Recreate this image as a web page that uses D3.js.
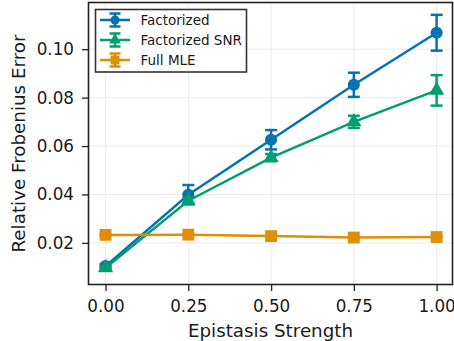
<!DOCTYPE html>
<html>
<head>
<meta charset="utf-8">
<script src="https://cdn.jsdelivr.net/npm/d3@7"></script>
<style>
body { margin: 0; background: #fff; }
text { font-family: "DejaVu Sans", sans-serif; }
</style>
</head>
<body>
<div id="chart"></div>
<script>
// values
var strengths = [0, 0.25, 0.5, 0.75, 1.0];
var factorized = [0.0104, 0.0399, 0.0626, 0.0853, 0.1068];
var factorizedErr = [0.0008, 0.0040, 0.0040, 0.0050, 0.0074];
var factorizedSnr = [0.0097, 0.0374, 0.0552, 0.0700, 0.0830];
var factorizedSnrErr = [0.0006, 0.0012, 0.0015, 0.0025, 0.0063];
var fullMle = [0.0233, 0.0234, 0.0228, 0.0222, 0.0224];
var fullMleErr = [0.0003, 0.0003, 0.0003, 0.0003, 0.0003];
var xTicks = [0, 0.25, 0.5, 0.75, 1.0];
var yTicks = [0.02, 0.04, 0.06, 0.08, 0.10];

var series = [
    {name: 'Factorized', values: factorized, err: factorizedErr, color: '#0173b2', shape: d3.symbolCircle},
    {name: 'Factorized SNR', values: factorizedSnr, err: factorizedSnrErr, color: '#029e73', shape: d3.symbolTriangle},
    {name: 'Full MLE', values: fullMle, err: fullMleErr, color: '#de8f05', shape: d3.symbolSquare}
];

var width = 454, height = 341;
var pLeft = 88.5, pTop = 2.5, pRight = 452.5, pBottom = 284.5;

var x = d3.scaleLinear().domain([-0.0515, 1.048]).range([pLeft, pRight]);
var y = d3.scaleLinear().domain([0.0028, 0.1193]).range([pBottom, pTop]);

var svg = d3.select('#chart').append('svg')
    .attr('width', width)
    .attr('height', height);

// grid
svg.append('g').selectAll('line').data(xTicks).enter().append('line')
    .attr('x1', function(d) { return x(d); }).attr('x2', function(d) { return x(d); })
    .attr('y1', pTop).attr('y2', pBottom)
    .attr('stroke', '#ebebeb').attr('stroke-width', 1);
svg.append('g').selectAll('line').data(yTicks).enter().append('line')
    .attr('y1', function(d) { return y(d); }).attr('y2', function(d) { return y(d); })
    .attr('x1', pLeft).attr('x2', pRight)
    .attr('stroke', '#ebebeb').attr('stroke-width', 1);

// axes
var xAxis = d3.axisBottom(x).tickValues(xTicks).tickFormat(d3.format('.2f')).tickSize(6.5).tickPadding(9);
var yAxis = d3.axisLeft(y).tickValues(yTicks).tickFormat(d3.format('.2f')).tickSize(6.5).tickPadding(8);

var gx = svg.append('g').attr('transform', 'translate(0,' + pBottom + ')').call(xAxis);
var gy = svg.append('g').attr('transform', 'translate(' + pLeft + ',0)').call(yAxis);
[gx, gy].forEach(function(g) {
    g.select('.domain').remove();
    g.selectAll('line').attr('stroke', '#222').attr('stroke-width', 1.3);
    g.selectAll('text').attr('font-size', 16.8).attr('fill', '#1a1a1a');
});

var line = d3.line()
    .x(function(d, i) { return x(strengths[i]); })
    .y(function(d) { return y(d); });

series.forEach(function(s) {
    var g = svg.append('g');
    g.append('path').attr('d', line(s.values))
        .attr('fill', 'none').attr('stroke', s.color).attr('stroke-width', 2.5);
    // error bars
    s.values.forEach(function(v, i) {
        var cx = x(strengths[i]);
        var y1 = y(v + s.err[i]), y2 = y(v - s.err[i]);
        g.append('line').attr('x1', cx).attr('x2', cx).attr('y1', y1).attr('y2', y2)
            .attr('stroke', s.color).attr('stroke-width', 2.5);
        [y1, y2].forEach(function(yy) {
            g.append('line').attr('x1', cx - 6).attr('x2', cx + 6).attr('y1', yy).attr('y2', yy)
                .attr('stroke', s.color).attr('stroke-width', 2.5);
        });
    });
    g.selectAll('path.m').data(s.values).enter().append('path')
        .attr('class', 'm')
        .attr('transform', function(d, i) { return 'translate(' + x(strengths[i]) + ',' + y(d) + ')'; })
        .attr('d', d3.symbol().type(s.shape).size(s.shape === d3.symbolSquare ? 140 : (s.shape === d3.symbolTriangle ? 100 : 115)))
        .attr('fill', s.color);
});

// frame
svg.append('rect').attr('x', pLeft).attr('y', pTop)
    .attr('width', pRight - pLeft).attr('height', pBottom - pTop)
    .attr('fill', 'none').attr('stroke', '#222').attr('stroke-width', 1.6);

// legend
var lg = svg.append('g').attr('transform', 'translate(95.5,9.5)');
lg.append('rect').attr('width', 151).attr('height', 62.5)
    .attr('fill', '#fff').attr('stroke', '#333').attr('stroke-width', 1.6);
series.forEach(function(s, i) {
    var yy = 10.5 + i * 20;
    lg.append('line').attr('x1', 4.5).attr('x2', 34.5).attr('y1', yy).attr('y2', yy)
        .attr('stroke', s.color).attr('stroke-width', 2.5);
    lg.append('line').attr('x1', 19.5).attr('x2', 19.5).attr('y1', yy - 6.5).attr('y2', yy + 6.5)
        .attr('stroke', s.color).attr('stroke-width', 2.5);
    [yy - 6.5, yy + 6.5].forEach(function(cy) {
        lg.append('line').attr('x1', 14).attr('x2', 25).attr('y1', cy).attr('y2', cy)
            .attr('stroke', s.color).attr('stroke-width', 2.5);
    });
    lg.append('path').attr('transform', 'translate(19.5,' + yy + ')')
        .attr('d', d3.symbol().type(s.shape).size(s.shape === d3.symbolSquare ? 80 : (s.shape === d3.symbolTriangle ? 60 : 65)))
        .attr('fill', s.color);
    lg.append('text').attr('x', 45).attr('y', yy + 5).attr('font-size', 13.5)
        .attr('fill', '#1a1a1a').text(s.name);
});

// axis labels
svg.append('text').attr('x', (pLeft + pRight) / 2).attr('y', 336.5)
    .attr('text-anchor', 'middle').attr('font-size', 18.3).attr('fill', '#1a1a1a')
    .text('Epistasis Strength');
svg.append('text').attr('transform', 'translate(24.5,' + ((pTop + pBottom) / 2) + ') rotate(-90)')
    .attr('text-anchor', 'middle').attr('font-size', 18.3).attr('fill', '#1a1a1a')
    .text('Relative Frobenius Error');
</script>
</body>
</html>
